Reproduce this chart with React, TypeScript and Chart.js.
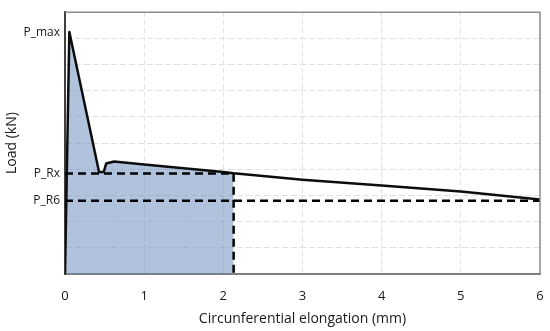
import React, { useEffect, useRef } from "react";
import { Chart, registerables } from "chart.js";

Chart.register(...registerables);

// Load–elongation curve (x in mm, y in arbitrary kN units)
const curveX = [0, 0.055, 0.43, 0.49, 0.52, 0.62, 1.0, 1.5, 2.0, 2.13, 2.5, 3.0, 4.0, 5.0, 5.5, 6.0];
const curveY = [0, 9.24, 3.9, 3.9, 4.22, 4.3, 4.18, 4.04, 3.9, 3.85, 3.74, 3.6, 3.38, 3.15, 3.0, 2.85];

const P_MAX = 9.24;
const P_RX = 3.84;
const P_R6 = 2.8;
const X_RX = 2.13;
const X_END = 6;

const yTickValues = [P_MAX, P_RX, P_R6];
const yTickLabels = ["P_max", "P_Rx", "P_R6"];
const xTickValues = [0, 1, 2, 3, 4, 5, 6];

const FONT = "'Open Sans', 'Noto Sans', sans-serif";
const TEXT = "#1a1a1a";

export default function App() {
  const ref = useRef<HTMLCanvasElement | null>(null);

  useEffect(() => {
    if (!ref.current) return;
    const curve = curveX.map((x, i) => ({ x, y: curveY[i] }));
    const area = curve.filter((p) => p.x <= X_RX);

    const frame = {
      id: "frame",
      afterDraw(chart: any) {
        const { ctx, chartArea: a } = chart;
        ctx.save();
        ctx.strokeStyle = "#8c8c8c";
        ctx.lineWidth = 1.5;
        ctx.beginPath();
        ctx.moveTo(a.left, a.top);
        ctx.lineTo(a.right, a.top);
        ctx.lineTo(a.right, a.bottom);
        ctx.stroke();
        ctx.restore();
      },
    };

    const chart = new Chart(ref.current, {
      type: "line",
      data: {
        datasets: [
          {
            data: [
              { x: 0, y: P_RX },
              { x: X_RX, y: P_RX },
              { x: X_RX, y: 0 },
            ],
            borderColor: "#000000",
            borderWidth: 2.5,
            borderDash: [8, 5],
            pointRadius: 0,
            fill: false,
            order: 0,
          },
          {
            data: [
              { x: 0, y: P_R6 },
              { x: X_END, y: P_R6 },
            ],
            borderColor: "#000000",
            borderWidth: 2.5,
            borderDash: [8, 5],
            pointRadius: 0,
            fill: false,
            order: 0,
          },
          {
            data: curve,
            borderColor: "#0d0d0d",
            borderWidth: 2.5,
            borderJoinStyle: "round",
            pointRadius: 0,
            fill: false,
            tension: 0,
            order: 1,
          },
          {
            data: area,
            borderWidth: 0,
            borderColor: "rgba(0,0,0,0)",
            backgroundColor: "rgba(100,135,185,0.5)",
            pointRadius: 0,
            fill: "origin",
            order: 2,
          },
        ],
      },
      options: {
        responsive: false,
        maintainAspectRatio: false,
        animation: false,
        layout: { padding: { top: 11, right: 0, left: 0, bottom: 0 } },
        plugins: {
          legend: { display: false },
          tooltip: { enabled: false },
        },
        scales: {
          x: {
            type: "linear",
            min: 0,
            max: 6,
            afterBuildTicks: (s: any) => {
              s.ticks = xTickValues.map((v) => ({ value: v }));
            },
            afterFit: (s: any) => {
              s.height = 57;
              s.paddingRight = 10;
              s.paddingLeft = 0;
            },
            ticks: {
              color: TEXT,
              font: { family: FONT, size: 13 },
              padding: 14,
              maxRotation: 0,
            },
            grid: {
              color: "#e0e0e0",
              lineWidth: 1,
              drawTicks: false,
            },
            border: { display: true, color: "#808080", width: 2, dash: [5, 3] },
            title: {
              display: true,
              text: "Circunferential elongation (mm)",
              color: TEXT,
              font: { family: FONT, size: 14 },
              padding: { top: 0, bottom: 4 },
            },
          },
          y: {
            type: "linear",
            min: 0,
            max: 10,
            afterBuildTicks: (s: any) => {
              const t: any[] = [];
              for (let v = 0; v <= 10; v++) t.push({ value: v });
              yTickValues.forEach((v) => t.push({ value: v }));
              s.ticks = t;
            },
            afterFit: (s: any) => {
              s.width = 65;
            },
            ticks: {
              autoSkip: false,
              color: TEXT,
              font: { family: FONT, size: 12 },
              padding: 5,
              callback: (v: any) => {
                const i = yTickValues.indexOf(Number(v));
                return i >= 0 ? yTickLabels[i] : "";
              },
            },
            grid: {
              color: (c: any) =>
                c.tick && yTickValues.indexOf(c.tick.value) >= 0 ? "rgba(0,0,0,0)" : "#e0e0e0",
              lineWidth: 1,
              drawTicks: false,
            },
            border: { display: true, color: "#404040", width: 2, dash: [6, 3] },
            title: {
              display: true,
              text: "Load (kN)",
              color: TEXT,
              font: { family: FONT, size: 14 },
              padding: { top: 4, bottom: 0 },
            },
          },
        },
      },
      plugins: [frame],
    });
    return () => chart.destroy();
  }, []);

  return (
    <div style={{ position: "absolute", left: 0, top: 0, width: 550, height: 331, background: "#fff" }}>
      <canvas ref={ref} width={550} height={331} />
    </div>
  );
}
